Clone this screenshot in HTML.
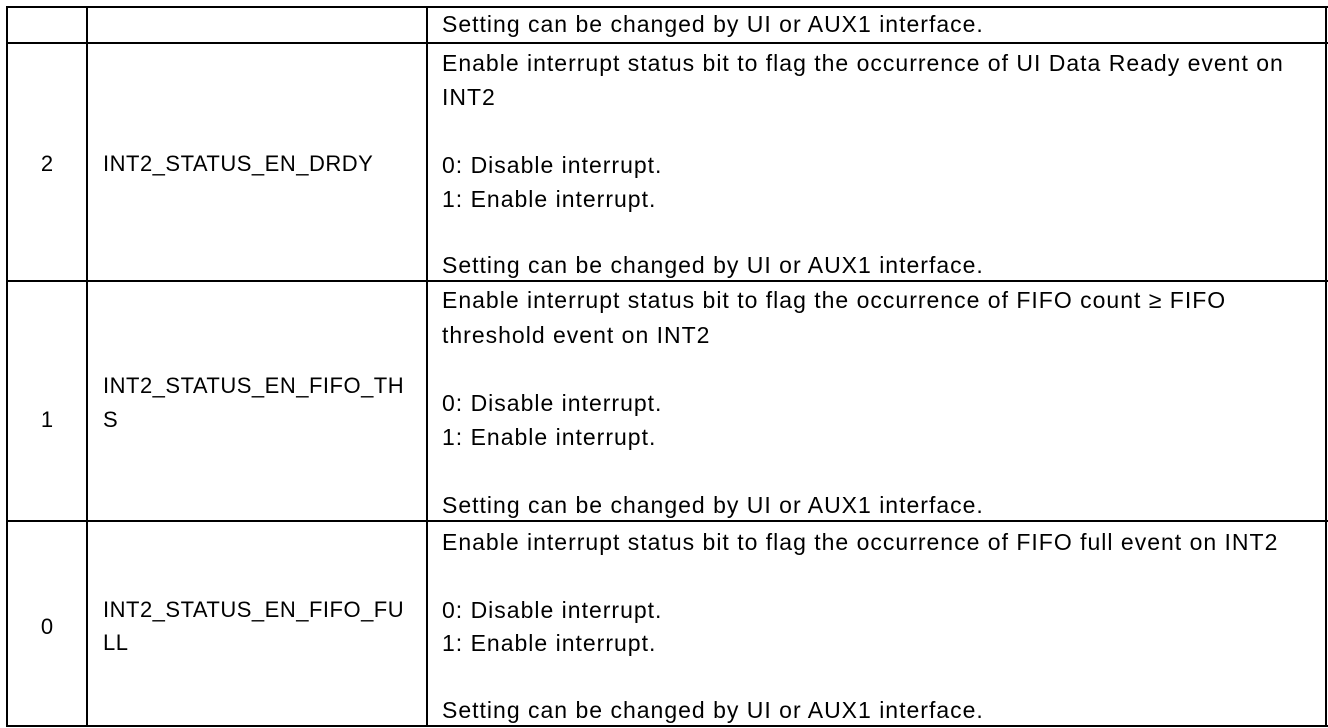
<!DOCTYPE html>
<html><head><meta charset="utf-8"><style>
html,body{margin:0;padding:0;background:#fff;}
body{width:1328px;height:728px;position:relative;overflow:hidden;font-family:"Liberation Sans",Arial,sans-serif;font-size:23px;letter-spacing:1px;color:#000;}
.h{position:absolute;height:2px;background:#000;}
.v{position:absolute;width:2px;background:#000;}
.t{position:absolute;line-height:34px;height:34px;white-space:nowrap;}
.n{font-size:22px;letter-spacing:0.5px;}
.c{text-align:center;width:80px;left:7px;font-size:22px;letter-spacing:0;}
</style></head><body>
<div class="h" style="left:6px;width:1322px;top:6px"></div>
<div class="h" style="left:6px;width:1322px;top:42px"></div>
<div class="h" style="left:6px;width:1322px;top:280px"></div>
<div class="h" style="left:6px;width:1322px;top:520px"></div>
<div class="h" style="left:6px;width:1322px;top:725px"></div>
<div class="v" style="left:6px;top:6px;height:721px"></div>
<div class="v" style="left:86px;top:6px;height:721px"></div>
<div class="v" style="left:426px;top:6px;height:721px"></div>
<div class="v" style="left:1325px;top:6px;height:721px"></div>

<div class="t" style="left:442px;top:7px">Setting can be changed by UI or AUX1 interface.</div>

<div class="t c" style="top:147px">2</div>
<div class="t n" style="left:103px;top:147px">INT2_STATUS_EN_DRDY</div>
<div class="t" style="left:442px;top:46px">Enable interrupt status bit to flag the occurrence of UI Data Ready event on</div>
<div class="t" style="left:442px;top:80px">INT2</div>
<div class="t" style="left:442px;top:148px">0: Disable interrupt.</div>
<div class="t" style="left:442px;top:182px">1: Enable interrupt.</div>
<div class="t" style="left:442px;top:248px">Setting can be changed by UI or AUX1 interface.</div>

<div class="t c" style="top:403px">1</div>
<div class="t n" style="left:103px;top:369px">INT2_STATUS_EN_FIFO_TH</div>
<div class="t n" style="left:103px;top:403px">S</div>
<div class="t" style="left:442px;top:283px">Enable interrupt status bit to flag the occurrence of FIFO count ≥ FIFO</div>
<div class="t" style="left:442px;top:318px">threshold event on INT2</div>
<div class="t" style="left:442px;top:386px">0: Disable interrupt.</div>
<div class="t" style="left:442px;top:420px">1: Enable interrupt.</div>
<div class="t" style="left:442px;top:488px">Setting can be changed by UI or AUX1 interface.</div>

<div class="t c" style="top:610px">0</div>
<div class="t n" style="left:103px;top:593px">INT2_STATUS_EN_FIFO_FU</div>
<div class="t n" style="left:103px;top:626px">LL</div>
<div class="t" style="left:442px;top:525px">Enable interrupt status bit to flag the occurrence of FIFO full event on INT2</div>
<div class="t" style="left:442px;top:593px">0: Disable interrupt.</div>
<div class="t" style="left:442px;top:626px">1: Enable interrupt.</div>
<div class="t" style="left:442px;top:693px">Setting can be changed by UI or AUX1 interface.</div>
</body></html>
